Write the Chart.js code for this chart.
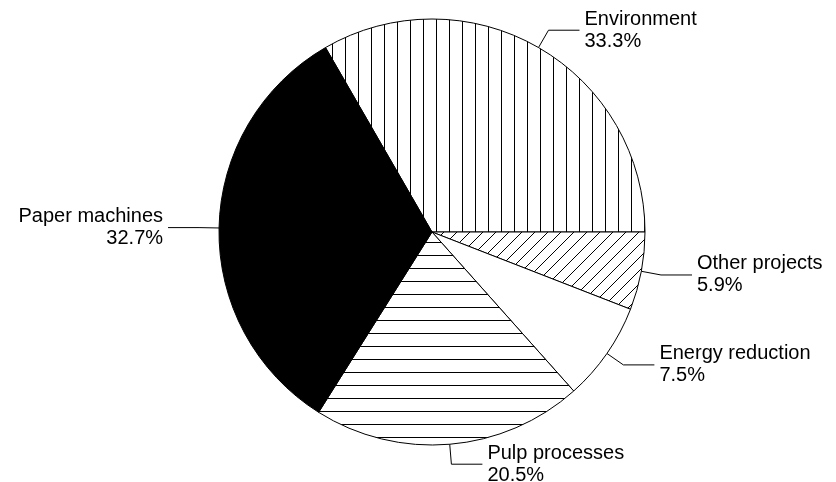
<!DOCTYPE html>
<html lang="en">

<head>
    <meta charset="UTF-8">
    <title>Project shares</title>
    <script src="https://cdn.jsdelivr.net/npm/chart.js"></script>
</head>

<body style="margin: 0; background: #ffffff; overflow: hidden;">
    <canvas id="pieChart" width="836" height="482"></canvas>

    <script>
        // data (share of total, %)
        const categories = ['Environment', 'Other projects', 'Energy reduction', 'Pulp processes', 'Paper machines'];
        const shares = [33.3, 5.9, 7.5, 20.5, 32.7];
        const shareLabels = ['33.3%', '5.9%', '7.5%', '20.5%', '32.7%'];

        // hatch tiles, one per slice
        function makeTile(draw) {
            const tile = document.createElement('canvas');
            tile.width = 13;
            tile.height = 13;
            const t = tile.getContext('2d');
            t.fillStyle = '#ffffff';
            t.fillRect(0, 0, 13, 13);
            t.strokeStyle = '#000000';
            t.lineWidth = 1;
            t.beginPath();
            draw(t);
            t.stroke();
            return tile;
        }

        const ctx = document.getElementById('pieChart').getContext('2d');

        const verticalLines = ctx.createPattern(makeTile(t => {
            t.moveTo(7.5, 0); t.lineTo(7.5, 13);
        }), 'repeat');
        const diagonalLines = ctx.createPattern(makeTile(t => {
            t.moveTo(-1, 14); t.lineTo(14, -1);
            t.moveTo(-1, 1); t.lineTo(1, -1);
            t.moveTo(12, 14); t.lineTo(14, 12);
        }), 'repeat');
        const horizontalLines = ctx.createPattern(makeTile(t => {
            t.moveTo(0, 8.5); t.lineTo(13, 8.5);
        }), 'repeat');

        const fills = [verticalLines, diagonalLines, '#ffffff', horizontalLines, '#000000'];

        // leader lines + two-line labels outside the pie
        const outsideLabels = {
            id: 'outsideLabels',
            afterDraw(chart) {
                const c = chart.ctx;
                const arcs = chart.getDatasetMeta(0).data;
                c.save();
                c.strokeStyle = '#000000';
                c.lineWidth = 1;
                c.fillStyle = '#000000';
                c.font = '20px Arial, "Liberation Sans", sans-serif';
                c.textBaseline = 'middle';
                arcs.forEach((arc, i) => {
                    const mid = (arc.startAngle + arc.endAngle) / 2;
                    const dx = Math.cos(mid);
                    const dy = Math.sin(mid);
                    const r = arc.outerRadius;
                    const x0 = arc.x + dx * r;
                    const y0 = arc.y + dy * r;
                    const x1 = arc.x + dx * (r + 20);
                    const y1 = arc.y + dy * (r + 20);
                    const right = dx >= 0;
                    const x2 = right ? x1 + 31 : x1 - 31;
                    c.beginPath();
                    c.moveTo(x0, y0);
                    c.lineTo(x1, y1);
                    c.lineTo(x2, y1);
                    c.stroke();
                    c.textAlign = right ? 'left' : 'right';
                    const tx = right ? x2 + 5 : x2 - 5;
                    c.fillText(categories[i], tx, y1 - 11);
                    c.fillText(shareLabels[i], tx, y1 + 11);
                });
                c.restore();
            }
        };

        const pieChart = new Chart(ctx, {
            type: 'pie',
            data: {
                labels: categories,
                datasets: [{
                    data: shares,
                    backgroundColor: fills,
                    borderColor: '#000000',
                    borderWidth: 1
                }]
            },
            options: {
                responsive: false,
                animation: false,
                rotation: -30,
                radius: 213,
                layout: {
                    padding: { left: 28, right: 0, top: 0, bottom: 18 }
                },
                plugins: {
                    legend: { display: false },
                    tooltip: { enabled: false }
                }
            },
            plugins: [outsideLabels]
        });
    </script>
</body>

</html>
